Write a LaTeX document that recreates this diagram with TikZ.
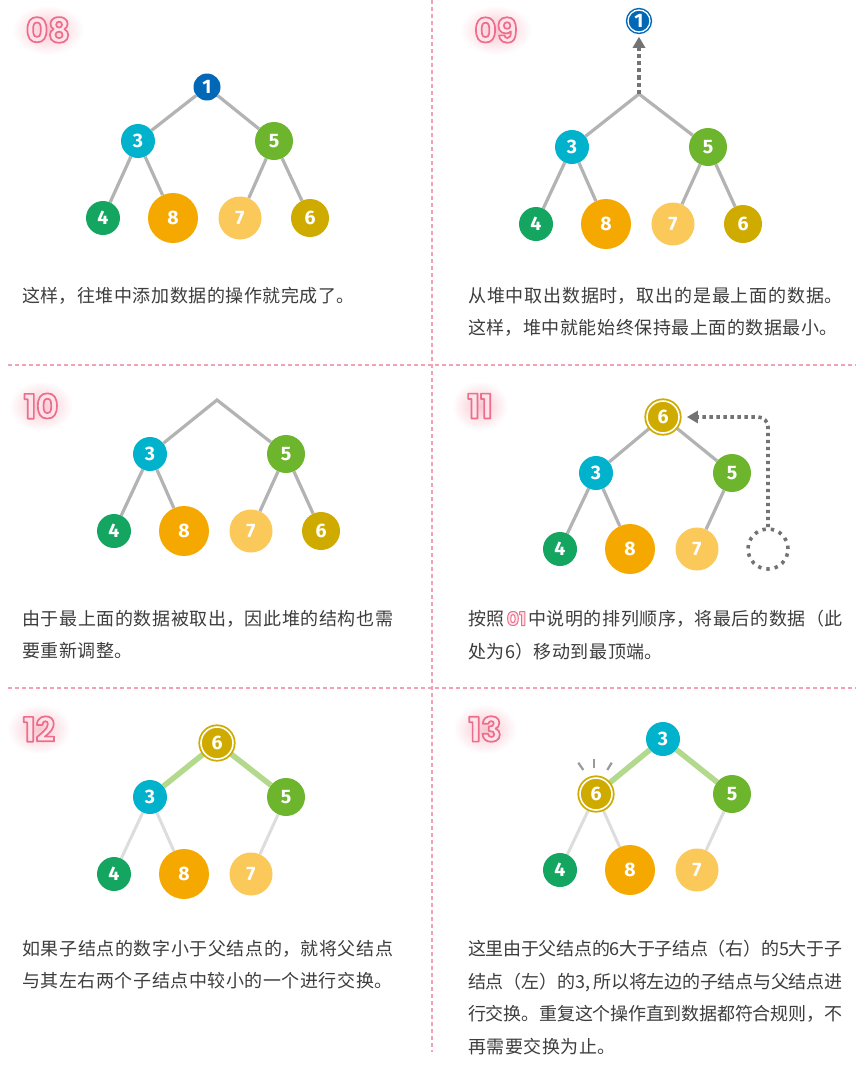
\documentclass[tikz,border=0pt]{standalone}
\usepackage{fontspec}
\usetikzlibrary{arrows.meta,backgrounds}
\newfontfamily\cjk{Noto Sans CJK SC}
\newfontfamily\numfont{Fira Sans}
\newfontfamily\ttlfont{Poppins}
\definecolor{cone}{HTML}{0068B7}
\definecolor{cthree}{HTML}{00B2CC}
\definecolor{cfive}{HTML}{6CB52D}
\definecolor{cfour}{HTML}{14A661}
\definecolor{ceight}{HTML}{F5A900}
\definecolor{cseven}{HTML}{FBC85A}
\definecolor{csix}{HTML}{CFAB00}
\definecolor{cedge}{HTML}{B3B3B3}
\definecolor{clight}{HTML}{DDDDDD}
\definecolor{cgedge}{HTML}{B3D98C}
\definecolor{cdot}{HTML}{737373}
\definecolor{cspark}{HTML}{9A9A9A}
\definecolor{cdiv}{HTML}{F2A2B5}
\definecolor{ctext}{HTML}{3D3D3D}
\definecolor{ttlfill}{HTML}{FDE4EA}
\definecolor{ttlglow}{HTML}{F8C6D1}
\XeTeXlinebreaklocale "zh"
\XeTeXlinebreakskip=0.55pt plus 3pt minus 1.5pt
% outlined text: fill pale pink, stroke pink (text render mode 2)
\newcommand\outlined[2]{\special{pdf:code q}{\color{ttlfill}\special{pdf:code 0.925 0.431 0.541 RG #1 w 1 j 2 Tr}#2}\special{pdf:code Q}}
\newcommand\ttlnum[1]{{\ttlfont\bfseries\fontsize{34}{34}\selectfont\outlined{1.7}{#1}}}
\newcommand\inlnum[1]{\hspace{2pt}{\ttlfont\bfseries\fontsize{19}{19}\selectfont\outlined{1.0}{#1}}\hspace{2pt}}
\tikzset{
  nd/.style={circle, inner sep=0pt, text=white, font=\numfont\bfseries\fontsize{19.5}{19.5}\selectfont},
  szone/.style={nd, fill=cone, minimum size=27pt},
  szthree/.style={nd, fill=cthree, minimum size=34pt},
  szfive/.style={nd, fill=cfive, minimum size=38pt},
  szfour/.style={nd, fill=cfour, minimum size=34pt},
  szeight/.style={nd, fill=ceight, minimum size=50pt},
  szseven/.style={nd, fill=cseven, minimum size=43pt},
  szsix/.style={nd, fill=csix, minimum size=38pt},
  ringsix/.style={nd, fill=csix, draw=csix, double=white, double distance=1.6pt, line width=1.8pt, minimum size=32pt},
  ringone/.style={nd, fill=cone, draw=cone, double=white, double distance=1.3pt, line width=1.5pt, minimum size=22pt},
  graylink/.style={draw=cedge, line width=3.2pt},
  lightlink/.style={draw=clight, line width=3pt},
  greenlink/.style={draw=cgedge, line width=5.5pt},
  dashup/.style={draw=cdot, line width=4pt, dash pattern=on 4.2pt off 3pt, -{Triangle[length=11pt,width=12pt]}, shorten >=4pt},
  dotarrow/.style={draw=cdot, line width=3.6pt, dash pattern=on 3.4pt off 3.6pt, rounded corners=10pt, -{Triangle[length=11pt,width=12pt]}, shorten >=7pt},
  ghostnode/.style={circle, draw=cdot, line width=3.6pt, dash pattern=on 3.4pt off 5pt, minimum size=40pt, inner sep=0pt},
  divider/.style={draw=cdiv, line width=1.3pt, dash pattern=on 4pt off 3pt},
  txtbody/.style={anchor=north west, inner sep=0pt, align=justify, text=ctext, font=\cjk\fontsize{18}{32.5}\selectfont},
  spark/.style={draw=cspark, line width=2.2pt},
  ttl/.style={inner sep=0pt},
  glow/.style={inner color=ttlglow, outer color=white}
}
\begin{document}
\begin{tikzpicture}[x=1pt,y=-1pt]
\useasboundingbox (0,0) rectangle (865,1066);
\begin{pgfonlayer}{background}
\fill[white] (0,0) rectangle (865,1066);
\end{pgfonlayer}
% dividers
\draw[divider] (432,0) -- (432,1052);
\draw[divider] (8,365) -- (856,365);
\draw[divider] (8,688) -- (856,688);
% titles
\node[ttl] (t08) at (48,30) {\ttlnum{08}};
\node[ttl] (t09) at (496,30) {\ttlnum{09}};
\node[ttl] (t10) at (41,406) {\ttlnum{10}};
\node[ttl] (t11) at (480,406) {\ttlnum{11}};
\node[ttl] (t12) at (39,729) {\ttlnum{12}};
\node[ttl] (t13) at (485,729) {\ttlnum{13}};
\begin{pgfonlayer}{background}
\shade[glow] (t08.center) ellipse [x radius=36, y radius=25];
\shade[glow] (t09.center) ellipse [x radius=36, y radius=25];
\shade[glow] (t10.center) ellipse [x radius=32, y radius=25];
\shade[glow] (t11.center) ellipse [x radius=28, y radius=25];
\shade[glow] (t12.center) ellipse [x radius=32, y radius=25];
\shade[glow] (t13.center) ellipse [x radius=32, y radius=25];
\end{pgfonlayer}
% ---- panel 08
\node[szone] (a1) at (207,87) {1};
\node[szthree] (a3) at (138,141) {3};
\node[szfive] (a5) at (274,141) {5};
\node[szfour] (a4) at (103,218) {4};
\node[szeight] (a8) at (173,218) {8};
\node[szseven] (a7) at (240,218) {7};
\node[szsix] (a6) at (310,218) {6};
\begin{pgfonlayer}{background}
\draw[graylink] (a1) -- (a3); \draw[graylink] (a1) -- (a5);
\draw[graylink] (a3) -- (a4); \draw[graylink] (a3) -- (a8);
\draw[graylink] (a5) -- (a7); \draw[graylink] (a5) -- (a6);
\end{pgfonlayer}
\node[txtbody, text width=371pt] (ta) at (22,287) {这样，往堆中添加数据的操作就完成了。};
% ---- panel 09
\node[ringone] (btop) at (639,21) {1};
\coordinate (bapex) at (639,94);
\node[szthree] (b3) at (572,147) {3};
\node[szfive] (b5) at (708,147) {5};
\node[szfour] (b4) at (536,224) {4};
\node[szeight] (b8) at (606,224) {8};
\node[szseven] (b7) at (673,224) {7};
\node[szsix] (b6) at (743,224) {6};
\begin{pgfonlayer}{background}
\draw[graylink] (b3) -- (bapex) -- (b5);
\draw[graylink] (b3) -- (b4); \draw[graylink] (b3) -- (b8);
\draw[graylink] (b5) -- (b7); \draw[graylink] (b5) -- (b6);
\end{pgfonlayer}
\draw[dashup] (bapex) -- (btop);
\node[txtbody, text width=374pt] (tb) at (468,287) {从堆中取出数据时，取出的是最上面的数据。\linebreak 这样，堆中就能始终保持最上面的数据最小。};
% ---- panel 10
\coordinate (capex) at (217,400);
\node[szthree] (c3) at (150,454) {3};
\node[szfive] (c5) at (286,454) {5};
\node[szfour] (c4) at (114,531) {4};
\node[szeight] (c8) at (184,531) {8};
\node[szseven] (c7) at (251,531) {7};
\node[szsix] (c6) at (321,531) {6};
\begin{pgfonlayer}{background}
\draw[graylink] (c3) -- (capex) -- (c5);
\draw[graylink] (c3) -- (c4); \draw[graylink] (c3) -- (c8);
\draw[graylink] (c5) -- (c7); \draw[graylink] (c5) -- (c6);
\end{pgfonlayer}
\node[txtbody, text width=371pt] (tc) at (22,610) {由于最上面的数据被取出，因此堆的结构也需\linebreak 要重新调整。};
% ---- panel 11
\node[ringsix] (d6) at (663,417) {6};
\node[szthree] (d3) at (596,473) {3};
\node[szfive] (d5) at (732,473) {5};
\node[szfour] (d4) at (560,549) {4};
\node[szeight] (d8) at (630,549) {8};
\node[szseven] (d7) at (697,549) {7};
\node[ghostnode] (dg) at (768,549) {};
\begin{pgfonlayer}{background}
\draw[graylink] (d6) -- (d3); \draw[graylink] (d6) -- (d5);
\draw[graylink] (d3) -- (d4); \draw[graylink] (d3) -- (d8);
\draw[graylink] (d5) -- (d7);
\end{pgfonlayer}
\draw[dotarrow] (dg.north) |- (d6);
\node[txtbody, text width=374pt] (td) at (468,610) {按照\inlnum{01}中说明的排列顺序，将最后的数据（此\linebreak 处为6）移动到最顶端。};
% ---- panel 12
\node[ringsix] (e6) at (217,743) {6};
\node[szthree] (e3) at (150,797) {3};
\node[szfive] (e5) at (286,797) {5};
\node[szfour] (e4) at (114,874) {4};
\node[szeight] (e8) at (184,874) {8};
\node[szseven] (e7) at (251,874) {7};
\begin{pgfonlayer}{background}
\draw[greenlink] (e6) -- (e3); \draw[greenlink] (e6) -- (e5);
\draw[lightlink] (e3) -- (e4); \draw[lightlink] (e3) -- (e8);
\draw[lightlink] (e5) -- (e7);
\end{pgfonlayer}
\node[txtbody, text width=371pt] (te) at (22,940) {如果子结点的数字小于父结点的，就将父结点\linebreak 与其左右两个子结点中较小的一个进行交换。};
% ---- panel 13
\node[szthree] (f3) at (663,739) {3};
\node[ringsix] (f6) at (596,794) {6};
\node[szfive] (f5) at (732,794) {5};
\node[szfour] (f4) at (560,870) {4};
\node[szeight] (f8) at (630,870) {8};
\node[szseven] (f7) at (697,870) {7};
\begin{pgfonlayer}{background}
\draw[greenlink] (f3) -- (f6); \draw[greenlink] (f3) -- (f5);
\draw[lightlink] (f6) -- (f4); \draw[lightlink] (f6) -- (f8);
\draw[lightlink] (f5) -- (f7);
\end{pgfonlayer}
\draw[spark] (578.3,762.7) -- (583.3,770);
\draw[spark] (594.3,759) -- (594.3,768.3);
\draw[spark] (611.7,762.7) -- (607.3,770);
\node[txtbody, text width=374pt] (tf) at (468,940) {这里由于父结点的6大于子结点（右）的5大于子\linebreak 结点（左）的3, 所以将左边的子结点与父结点进\linebreak 行交换。重复这个操作直到数据都符合规则，不\linebreak 再需要交换为止。};
\end{tikzpicture}
\end{document}
